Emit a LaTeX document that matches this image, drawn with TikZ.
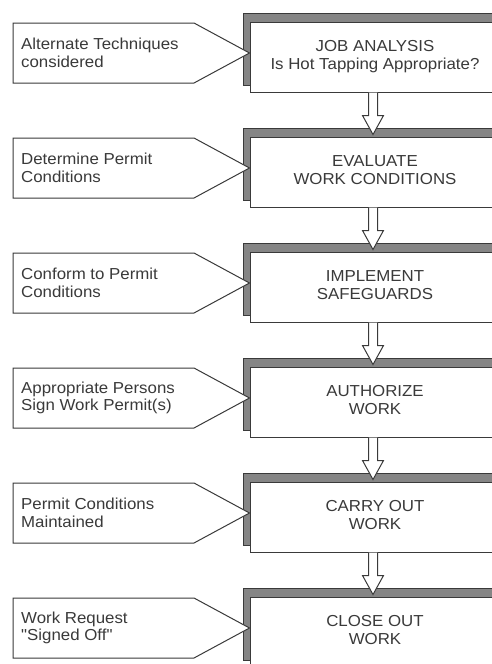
\documentclass[tikz,border=0pt]{standalone}
\usepackage{fontspec}
\setmainfont[FakeStretch=1.06,Ligatures=TeXOff]{Liberation Sans}
\usetikzlibrary{calc}
\definecolor{ink}{HTML}{3A3A3A}
\definecolor{shade}{HTML}{858585}
\tikzset{
  x=1pt, y=-1pt,
  txt/.style={font=\fontsize{15.9}{17.5}\selectfont, text=ink},
  shadowbox/.style={draw=ink, fill=shade, line width=1pt, minimum width=267pt, minimum height=72pt, inner sep=0pt},
  mainbox/.style={txt, draw=ink, fill=white, line width=1pt, minimum width=250pt, minimum height=70pt, inner sep=0pt, align=center},
  callout/.style={draw=ink, fill=white, line width=1pt, line join=miter},
  calltext/.style={txt, align=left, inner sep=0pt, anchor=west},
  barrow/.style={draw=ink, fill=white, line width=1pt, line join=miter}
}
\begin{document}
\begin{tikzpicture}
\useasboundingbox (0,0) rectangle (492,664);
\clip (0,0) rectangle (492,664);
\fill[white] (0,0) rectangle (492,664);
\foreach \i/\t/\mtext/\ctext in {
  1/22/{JOB ANALYSIS\\Is Hot Tapping Appropriate?}/{Alternate Techniques\\considered},
  2/137/{EVALUATE\\WORK CONDITIONS}/{Determine Permit\\Conditions},
  3/252/{IMPLEMENT\\SAFEGUARDS}/{Conform to Permit\\Conditions},
  4/367/{AUTHORIZE\\WORK}/{Appropriate Persons\\Sign Work Permit(s)},
  5/482/{CARRY OUT\\WORK}/{Permit Conditions\\Maintained},
  6/597/{CLOSE OUT\\WORK}/{Work Request\\"Signed Off"}}{
  \node[shadowbox] (s\i) at (376.5,\t+27) {};
  \node[mainbox] (b\i) at (375,\t+35) {\raisebox{2pt}{\begin{tabular}{@{}c@{}}\mtext\end{tabular}}};
  \draw[callout] (13,\t+1) -- (194,\t+1) -- ([yshift=4pt]b\i.west) -- (194,\t+61) -- (13,\t+61) -- cycle;
  \node[calltext] (c\i) at (21,\t+31) {\ctext};
}
\foreach \a/\b in {1/2,2/3,3/4,4/5,5/6}{
  \draw[barrow] ($(b\a.south)+(-6.5,0)$) -- ($(b\a.south)+(-6.5,23)$) -- ($(b\a.south)+(-12.5,23)$)
    -- ($(b\b.north)+(-2,-2)$) -- ($(b\a.south)+(8.5,23)$) -- ($(b\a.south)+(2.5,23)$)
    -- ($(b\a.south)+(2.5,0)$);
}
\end{tikzpicture}
\end{document}
